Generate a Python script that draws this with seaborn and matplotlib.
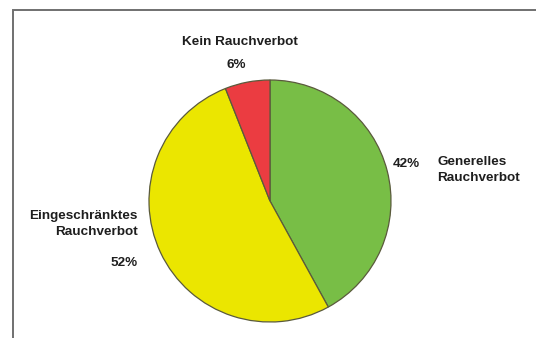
import matplotlib
matplotlib.use("Agg")
import matplotlib.pyplot as plt
import seaborn as sns
from matplotlib.patches import Rectangle

categories = ["Generelles\nRauchverbot", "Eingeschränktes\nRauchverbot", "Kein Rauchverbot"]
shares = [42, 52, 6]
colors = ["#78be46", "#ebe600", "#eb3c41"]

sns.set_theme(style="white")
plt.rcParams["font.family"] = ["Liberation Sans", "DejaVu Sans"]

W, H = 536, 338
fig = plt.figure(figsize=(W / 100, H / 100), dpi=100)
ax = fig.add_axes([0, 0, 1, 1])

# pie drawn in pixel-like coordinates, clockwise from 12 o'clock
cx, cy, r = 270, H - 201, 121
ax.pie(shares, colors=colors, startangle=90, counterclock=False,
       center=(cx, cy), radius=r, frame=True,
       wedgeprops=dict(edgecolor="#5a5a3c", linewidth=0.9))
ax.set_xlim(0, W)
ax.set_ylim(0, H)
ax.set_aspect("equal")
ax.axis("off")

txt = dict(fontsize=9.7, fontweight="bold", color="#1e1e1e")
pct = [f"{v}%" for v in shares]

# Generelles Rauchverbot
ax.text(406, H - 164, pct[0], ha="center", va="center", **txt)
ax.text(437, H - 170, categories[0], ha="left", va="center", linespacing=1.45, **txt)
# Eingeschränktes Rauchverbot
ax.text(138, H - 224, categories[1], ha="right", va="center", linespacing=1.45,
        multialignment="right", **txt)
ax.text(138, H - 263, pct[1], ha="right", va="center", **txt)
# Kein Rauchverbot
ax.text(240, H - 42, categories[2], ha="center", va="center", **txt)
ax.text(236, H - 65, pct[2], ha="center", va="center", **txt)

# open frame: top and left border lines
frame = Rectangle((13, -20), W + 40, H - 10 + 20, fill=False,
                  edgecolor="#707070", linewidth=1.4, clip_on=False)
ax.add_patch(frame)

fig.savefig("out.png", dpi=100)
